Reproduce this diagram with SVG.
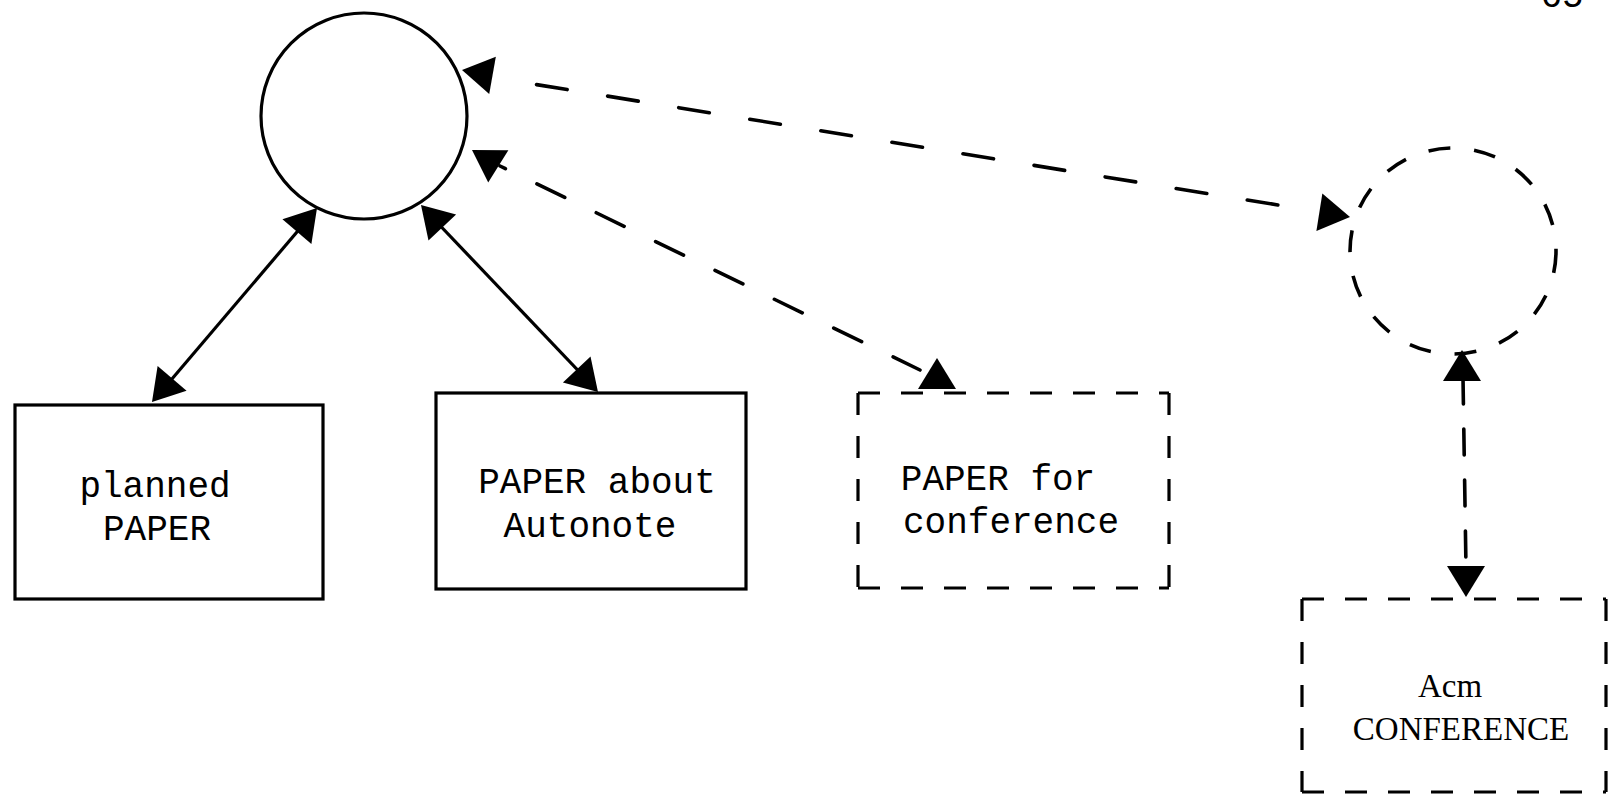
<svg xmlns="http://www.w3.org/2000/svg" xmlns:xlink="http://www.w3.org/1999/xlink" width="1608" height="796" viewBox="0 0 1608 796">
<style>
.solid{fill:none;stroke:#000;stroke-width:3.2}
.dbox{fill:none;stroke:#000;stroke-width:3.2;stroke-dasharray:22 21}
.dline{fill:none;stroke:#000;stroke-width:3.6;stroke-linecap:round}
.tw{font-family:"Liberation Mono","DejaVu Sans Mono",monospace;font-size:36px;fill:#000;text-anchor:middle}
.sf{font-family:"Liberation Serif","DejaVu Serif",serif;font-size:33px;fill:#000;text-anchor:middle}
</style>
<defs>
<path id="ah" d="M0 0 L-31 -19 L-31 19 Z" fill="#000"/>
</defs>
<rect width="1608" height="796" fill="#fff"/>
<text class="tw" x="1562" y="7">65</text>
<g id="circle-main"><circle cx="364" cy="116" r="103" class="solid" stroke-width="3.6"/></g>
<g id="circle-dashed"><circle cx="1453" cy="251" r="103" fill="none" stroke="#000" stroke-width="3.6" stroke-dasharray="22 24"/></g>
<g id="box-planned">
<rect x="15" y="405" width="308" height="194" class="solid"/>
<text class="tw" x="155" y="497">planned</text>
<text class="tw" x="157" y="540">PAPER</text>
</g>
<g id="box-autonote">
<rect x="436" y="393" width="310" height="196" class="solid"/>
<text class="tw" x="597" y="493">PAPER about</text>
<text class="tw" x="590" y="537">Autonote</text>
</g>
<g id="box-conf-paper">
<path class="dbox" d="M858 393 H1169 M1169 393 V588 M858 588 H1169 M858 393 V588"/>
<text class="tw" x="998" y="490">PAPER for</text>
<text class="tw" x="1011" y="533">conference</text>
</g>
<g id="box-acm">
<path class="dbox" d="M1302 599 H1606 M1606 599 V792 M1302 792 H1606 M1302 599 V792"/>
<text class="sf" x="1450" y="697">Acm</text>
<text class="sf" x="1461" y="740">CONFERENCE</text>
</g>
<g id="connectors">
<line x1="308" y1="219" x2="160" y2="393" class="solid"/>
<use xlink:href="#ah" transform="translate(317,208) rotate(-49.6)"/>
<use xlink:href="#ah" transform="translate(152,402) rotate(130.4)"/>
<line x1="430" y1="215" x2="590" y2="383" class="solid"/>
<use xlink:href="#ah" transform="translate(421,205) rotate(-133.4)"/>
<use xlink:href="#ah" transform="translate(598,392) rotate(46.6)"/>
<line x1="500" y1="166" x2="920" y2="370" class="dline" stroke-dasharray="31 35" stroke-dashoffset="25"/>
<use xlink:href="#ah" transform="translate(472,150) rotate(-148)"/>
<use xlink:href="#ah" transform="translate(937,358) rotate(-90)"/>
<line x1="502" y1="79" x2="1315" y2="211" class="dline" stroke-dasharray="31 41" stroke-dashoffset="37"/>
<use xlink:href="#ah" transform="translate(462,70) rotate(190)"/>
<use xlink:href="#ah" transform="translate(1350,217) rotate(9)"/>
<line x1="1463" y1="378" x2="1466" y2="568" class="dline" stroke-dasharray="26 25"/>
<use xlink:href="#ah" transform="translate(1462,350) rotate(-90)"/>
<use xlink:href="#ah" transform="translate(1466,597) rotate(90)"/>
</g>
</svg>
